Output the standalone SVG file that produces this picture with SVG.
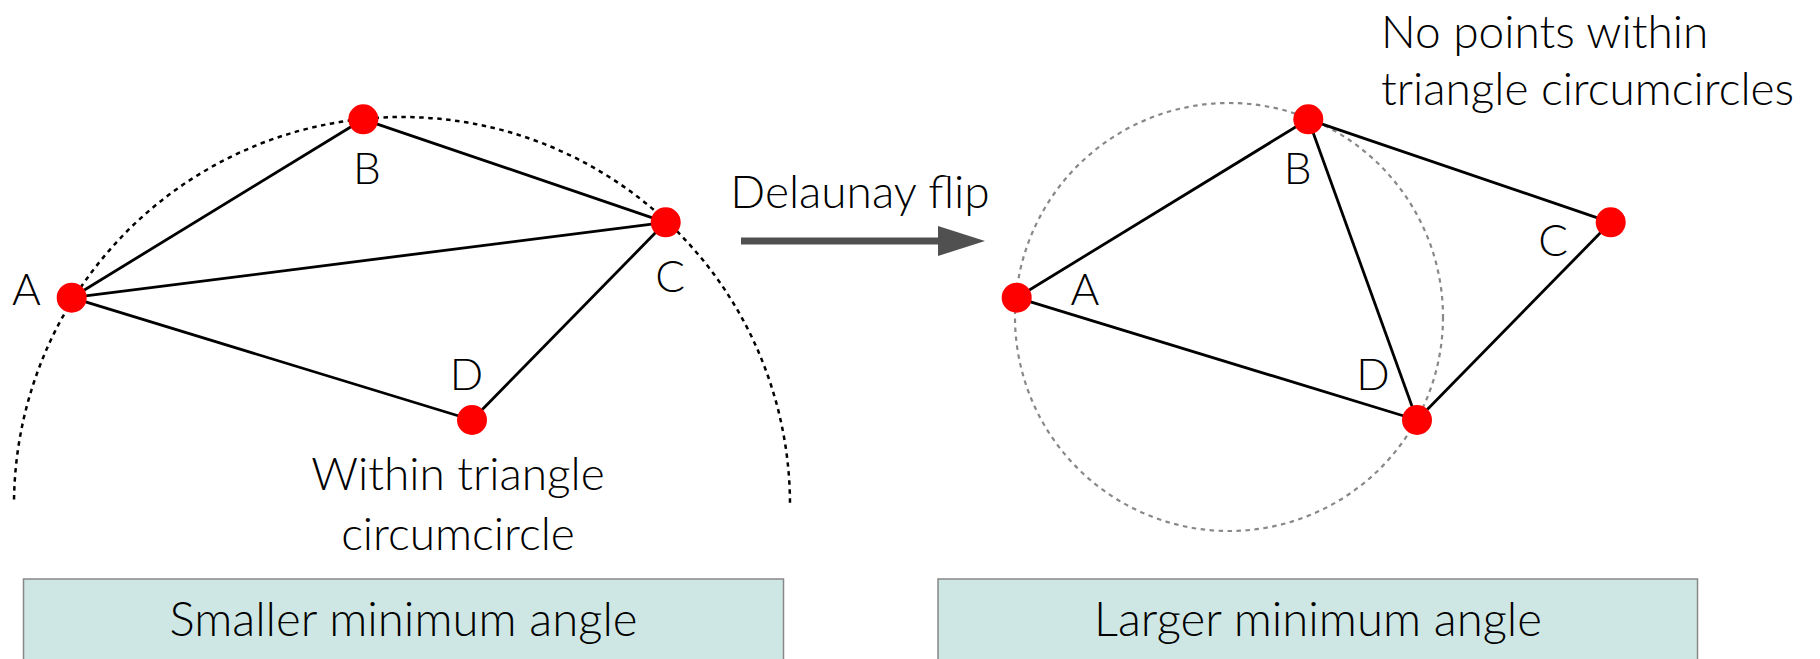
<svg xmlns="http://www.w3.org/2000/svg" width="1820" height="659" viewBox="0 0 1820 659">
<style>
.t{font-family:Lato,"Noto Sans",sans-serif;font-weight:300;fill:#000;font-size:46px;}
.lbl{font-family:Lato,"Noto Sans",sans-serif;font-weight:300;fill:#000;font-size:44px;text-anchor:middle;}
.e{stroke:#000;stroke-width:2.8;fill:none;}
.dot{fill:#ff0000;}
.box{fill:#cfe7e4;stroke:#888;stroke-width:1.5;}
</style>
<defs>
<marker id="ah" markerWidth="10" markerHeight="10" refX="0" refY="5" orient="auto" markerUnits="userSpaceOnUse" viewBox="0 0 10 10" overflow="visible">
<path d="M0,-10 L47,5 L0,20 Z" fill="#505050"/>
</marker>
<clipPath id="top"><rect x="0" y="0" width="900" height="503"/></clipPath>
</defs>
<rect width="1820" height="659" fill="#fff"/>
<!-- circumcircles -->
<circle cx="402" cy="505" r="388" fill="none" stroke="#000" stroke-width="2.5" stroke-dasharray="4.5 4.5" clip-path="url(#top)"/>
<circle cx="1229" cy="317" r="214" fill="none" stroke="#888" stroke-width="2.2" stroke-dasharray="4.5 4.5"/>
<g id="connectors">
<line class="e" x1="71.7" y1="297.7" x2="363.3" y2="119.3"/>
<line class="e" x1="363.3" y1="119.3" x2="665.7" y2="222.3"/>
<line class="e" x1="71.7" y1="297.7" x2="665.7" y2="222.3"/>
<line class="e" x1="71.7" y1="297.7" x2="472" y2="420"/>
<line class="e" x1="665.7" y1="222.3" x2="472" y2="420"/>
<line class="e" x1="1016.7" y1="297.7" x2="1308.3" y2="119.3"/>
<line class="e" x1="1308.3" y1="119.3" x2="1610.7" y2="222.3"/>
<line class="e" x1="1610.7" y1="222.3" x2="1417" y2="420"/>
<line class="e" x1="1016.7" y1="297.7" x2="1417" y2="420"/>
<line class="e" x1="1308.3" y1="119.3" x2="1417" y2="420"/>
<line x1="741" y1="241" x2="938" y2="241" stroke="#505050" stroke-width="7" marker-end="url(#ah)"/>
</g>
<g id="left-A"><circle class="dot" cx="71.7" cy="297.7" r="15"/><text class="lbl" x="26.5" y="305">A</text></g>
<g id="left-B"><circle class="dot" cx="363.3" cy="119.3" r="15"/><text class="lbl" x="367" y="184">B</text></g>
<g id="left-C"><circle class="dot" cx="665.7" cy="222.3" r="15"/><text class="lbl" x="670" y="292">C</text></g>
<g id="left-D"><circle class="dot" cx="472" cy="420" r="15"/><text class="lbl" x="466.6" y="390">D</text></g>
<g id="right-A"><circle class="dot" cx="1016.7" cy="297.7" r="15"/><text class="lbl" x="1085" y="305">A</text></g>
<g id="right-B"><circle class="dot" cx="1308.3" cy="119.3" r="15"/><text class="lbl" x="1297.6" y="184">B</text></g>
<g id="right-C"><circle class="dot" cx="1610.7" cy="222.3" r="15"/><text class="lbl" x="1553" y="256">C</text></g>
<g id="right-D"><circle class="dot" cx="1417" cy="420" r="15"/><text class="lbl" x="1373" y="390">D</text></g>
<g id="flip-label"><text class="t" x="860" y="208" text-anchor="middle">Delaunay flip</text></g>
<g id="within-label"><text class="t" x="458" y="490" text-anchor="middle">Within triangle</text><text class="t" x="458" y="550" text-anchor="middle">circumcircle</text></g>
<g id="nopoints-label"><text class="t" x="1381" y="48">No points within</text><text class="t" x="1381" y="105">triangle circumcircles</text></g>
<g id="box-left"><rect class="box" x="23.5" y="579" width="760" height="90"/><text class="t" x="403.5" y="636" text-anchor="middle" style="font-size:47.3px">Smaller minimum angle</text></g>
<g id="box-right"><rect class="box" x="938" y="579" width="759.5" height="90"/><text class="t" x="1318" y="636" text-anchor="middle" style="font-size:47.3px">Larger minimum angle</text></g>
</svg>
